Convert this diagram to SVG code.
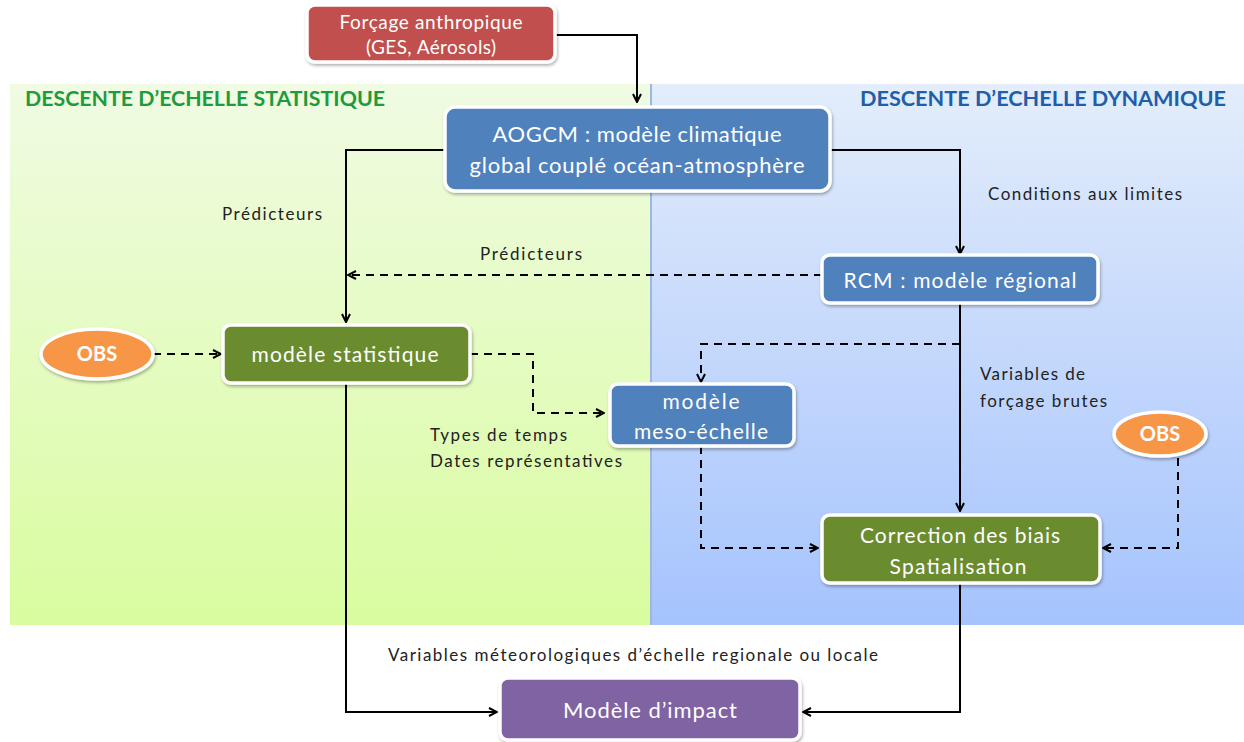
<svg xmlns="http://www.w3.org/2000/svg" width="1244" height="742" viewBox="0 0 1244 742">
<defs>
<linearGradient id="gL" x1="0" y1="0" x2="0" y2="1"><stop offset="0" stop-color="#f0fbe3"/><stop offset="1" stop-color="#d9fc9f"/></linearGradient>
<linearGradient id="gR" x1="0" y1="0" x2="0" y2="1"><stop offset="0" stop-color="#e3edfb"/><stop offset="1" stop-color="#a5c3fd"/></linearGradient>
<marker id="ar" viewBox="0 0 10 10" refX="9" refY="5" markerWidth="10" markerHeight="10" markerUnits="userSpaceOnUse" orient="auto"><path d="M1,1 L9,5 L1,9" fill="none" stroke="#000" stroke-width="2"/></marker>
<filter id="sh" x="-10%" y="-20%" width="120%" height="150%"><feDropShadow dx="1" dy="2" stdDeviation="1.5" flood-color="#000" flood-opacity="0.3"/></filter>
</defs>
<style>
.box{stroke:#fff;stroke-width:3.5;filter:url(#sh)}
.bt{font-family:Lato,"Open Sans",sans-serif;fill:#fff;text-anchor:middle}
.lbl{font-family:Lato,"Open Sans",sans-serif;fill:#222;font-size:17px}
.ttl{font-family:Lato,"Open Sans",sans-serif;font-weight:bold;font-size:21px}
.c{fill:none;stroke:#000;stroke-width:2}
.d{stroke-dasharray:8 6}
</style>
<rect x="10" y="84" width="641" height="541" fill="url(#gL)"/>
<rect x="651" y="84" width="593" height="541" fill="url(#gR)"/>
<line x1="651" y1="84" x2="651" y2="625" stroke="#9db8e0" stroke-width="2"/>
<text class="ttl" x="25" y="106" fill="#1f9a3c" textLength="360" lengthAdjust="spacingAndGlyphs">DESCENTE D’ECHELLE STATISTIQUE</text>
<text class="ttl" x="860" y="106" fill="#1f5ea8" textLength="366" lengthAdjust="spacingAndGlyphs">DESCENTE D’ECHELLE DYNAMIQUE</text>

<g id="connectors">
<path class="c" d="M555,35 H637 V102" marker-end="url(#ar)"/>
<path class="c" d="M445,150 H346 V322" marker-end="url(#ar)"/>
<path class="c" d="M830,150 H960 V254" marker-end="url(#ar)"/>
<path class="c d" d="M822,275 H348" marker-end="url(#ar)"/>
<path class="c d" d="M153,354 H221" marker-end="url(#ar)"/>
<path class="c d" d="M470,354 H533 V413 H604" marker-end="url(#ar)"/>
<path class="c" d="M960,303 V511" marker-end="url(#ar)"/>
<path class="c d" d="M960,344 H701 V382" marker-end="url(#ar)"/>
<path class="c d" d="M701,446 V548 H818" marker-end="url(#ar)"/>
<path class="c d" d="M1178,458 V548 H1103" marker-end="url(#ar)"/>
<path class="c" d="M960,583 V712 H803" marker-end="url(#ar)"/>
<path class="c" d="M346,383 V712 H497" marker-end="url(#ar)"/>
</g>

<g id="forcage">
<rect class="box" x="307" y="5" width="248" height="57" rx="8" fill="#c0504d"/>
<text class="bt" font-size="19" x="431" y="29" textLength="183">Forçage anthropique</text>
<text class="bt" font-size="19" x="431" y="54" textLength="130">(GES, Aérosols)</text>
</g>
<g id="aogcm">
<rect class="box" x="445" y="107" width="385" height="84" rx="10" fill="#4f81bd"/>
<text class="bt" font-size="22" x="637" y="142" textLength="289">AOGCM : modèle climatique</text>
<text class="bt" font-size="22" x="637" y="173" textLength="335">global couplé océan-atmosphère</text>
</g>
<g id="rcm">
<rect class="box" x="822" y="255" width="276" height="48" rx="8" fill="#4f81bd"/>
<text class="bt" font-size="21" x="960" y="288" textLength="233">RCM : modèle régional</text>
</g>
<g id="stat">
<rect class="box" x="223" y="325" width="247" height="58" rx="8" fill="#6b8c2f"/>
<text class="bt" font-size="21" x="345" y="362" textLength="187">modèle statistique</text>
</g>
<g id="obs1">
<ellipse class="box" cx="97" cy="354" rx="56" ry="25" fill="#f79646"/>
<text class="bt" font-size="20" font-weight="bold" x="97" y="361">OBS</text>
</g>
<g id="meso">
<rect class="box" x="610" y="384" width="184" height="62" rx="8" fill="#4f81bd"/>
<text class="bt" font-size="21" x="701" y="409" textLength="77">modèle</text>
<text class="bt" font-size="21" x="701" y="439" textLength="134">meso-échelle</text>
</g>
<g id="correction">
<rect class="box" x="822" y="515" width="278" height="68" rx="8" fill="#6b8c2f"/>
<text class="bt" font-size="21" x="960" y="543" textLength="200">Correction des biais</text>
<text class="bt" font-size="21" x="958" y="574" textLength="137">Spatialisation</text>
</g>
<g id="obs2">
<ellipse class="box" cx="1160" cy="434" rx="46" ry="22" fill="#f79646"/>
<text class="bt" font-size="20" font-weight="bold" x="1160" y="441">OBS</text>
</g>
<g id="impact">
<rect class="box" x="500" y="678" width="300" height="62" rx="8" fill="#8064a2"/>
<text class="bt" font-size="22" x="650" y="718" textLength="174">Modèle d’impact</text>
</g>

<g id="labels">
<text class="lbl" x="222" y="220" textLength="100">Prédicteurs</text>
<text class="lbl" x="480" y="260" textLength="102">Prédicteurs</text>
<text class="lbl" x="988" y="200" textLength="194">Conditions aux limites</text>
<text class="lbl" x="980" y="380" textLength="105">Variables de</text>
<text class="lbl" x="980" y="407" textLength="127">forçage brutes</text>
<text class="lbl" x="430" y="441" textLength="137">Types de temps</text>
<text class="lbl" x="430" y="467" textLength="192">Dates représentatives</text>
<text class="lbl" x="388" y="661" textLength="490">Variables méteorologiques d’échelle regionale ou locale</text>
</g>
</svg>
